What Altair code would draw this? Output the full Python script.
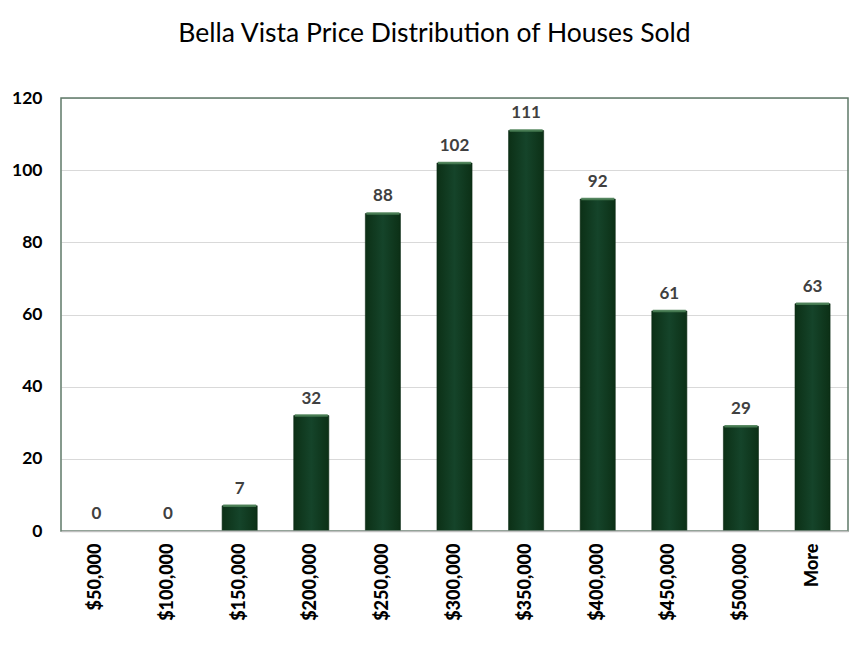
import altair as alt
import pandas as pd

categories = ["$50,000", "$100,000", "$150,000", "$200,000", "$250,000", "$300,000",
              "$350,000", "$400,000", "$450,000", "$500,000", "More"]
counts = [0, 0, 7, 32, 88, 102, 111, 92, 61, 29, 63]
y_ticks = [0, 20, 40, 60, 80, 100, 120]
title_text = "Bella Vista Price Distribution of Houses Sold"

df = pd.DataFrame({"bin": categories, "count": counts})

FONT = "Lato"
W, H = 787, 433

x_enc = alt.X(
    "bin:N", sort=categories,
    scale=alt.Scale(paddingInner=0.51, paddingOuter=0.25),
    axis=alt.Axis(title=None, labelAngle=-90, labelFont=FONT, labelFontWeight=900,
                  labelFontSize=18, labelColor="#000000", labelPadding=12, ticks=False,
                  domainColor="#bfbfbf", domainWidth=1.5, labelAlign="right",
                  labelBaseline="middle", zindex=1),
)
y_enc = alt.Y(
    "count:Q",
    scale=alt.Scale(domain=[0, 120], nice=False),
    axis=alt.Axis(title=None, values=y_ticks, labelFont=FONT, labelFontWeight="bold",
                  labelFontSize=17.5, labelColor="#000000", labelPadding=19, ticks=False,
                  domain=False, gridColor="#d9d9d9", gridWidth=1),
)

base = alt.Chart(df)

bars = base.transform_filter("datum.count > 0").mark_bar(
    color=alt.Gradient(
        gradient="linear", x1=0, x2=1, y1=0, y2=0,
        stops=[alt.GradientStop(color="#0c3016", offset=0),
               alt.GradientStop(color="#15442a", offset=0.5),
               alt.GradientStop(color="#0c3016", offset=1)],
    ),
    stroke="#0a2812", strokeWidth=0.6,
).encode(x=x_enc, y=y_enc)

tops = base.transform_filter("datum.count > 0").mark_tick(
    color="#4a7f55", thickness=2.5, size=33, opacity=0.9
).encode(x=x_enc, y=y_enc)

labels = base.mark_text(
    dy=-12, baseline="alphabetic", font=FONT, fontWeight="bold", fontSize=17,
    color="#404040"
).encode(x=x_enc, y=y_enc, text="count:Q")

frame = alt.Chart(pd.DataFrame({"f": [0]})).mark_rect(
    fill=None, stroke="#5f7a68", strokeWidth=1.5
).encode(x=alt.value(0), x2=alt.value(W), y=alt.value(0), y2=alt.value(H))

chart = alt.layer(bars, tops, labels, frame).properties(
    width=W, height=H,
    background="white",
    title=alt.TitleParams(title_text, font=FONT, fontSize=26.5, fontWeight="normal",
                          color="#000000", anchor="middle", baseline="alphabetic",
                          offset=21, dx=-20),
    autosize=alt.AutoSizeParams(type="none"),
    padding={"left": 53, "top": 90, "right": 8, "bottom": 124},
).configure_view(stroke=None)

chart.save("out.html", embed_options={"renderer": "svg", "actions": False})
